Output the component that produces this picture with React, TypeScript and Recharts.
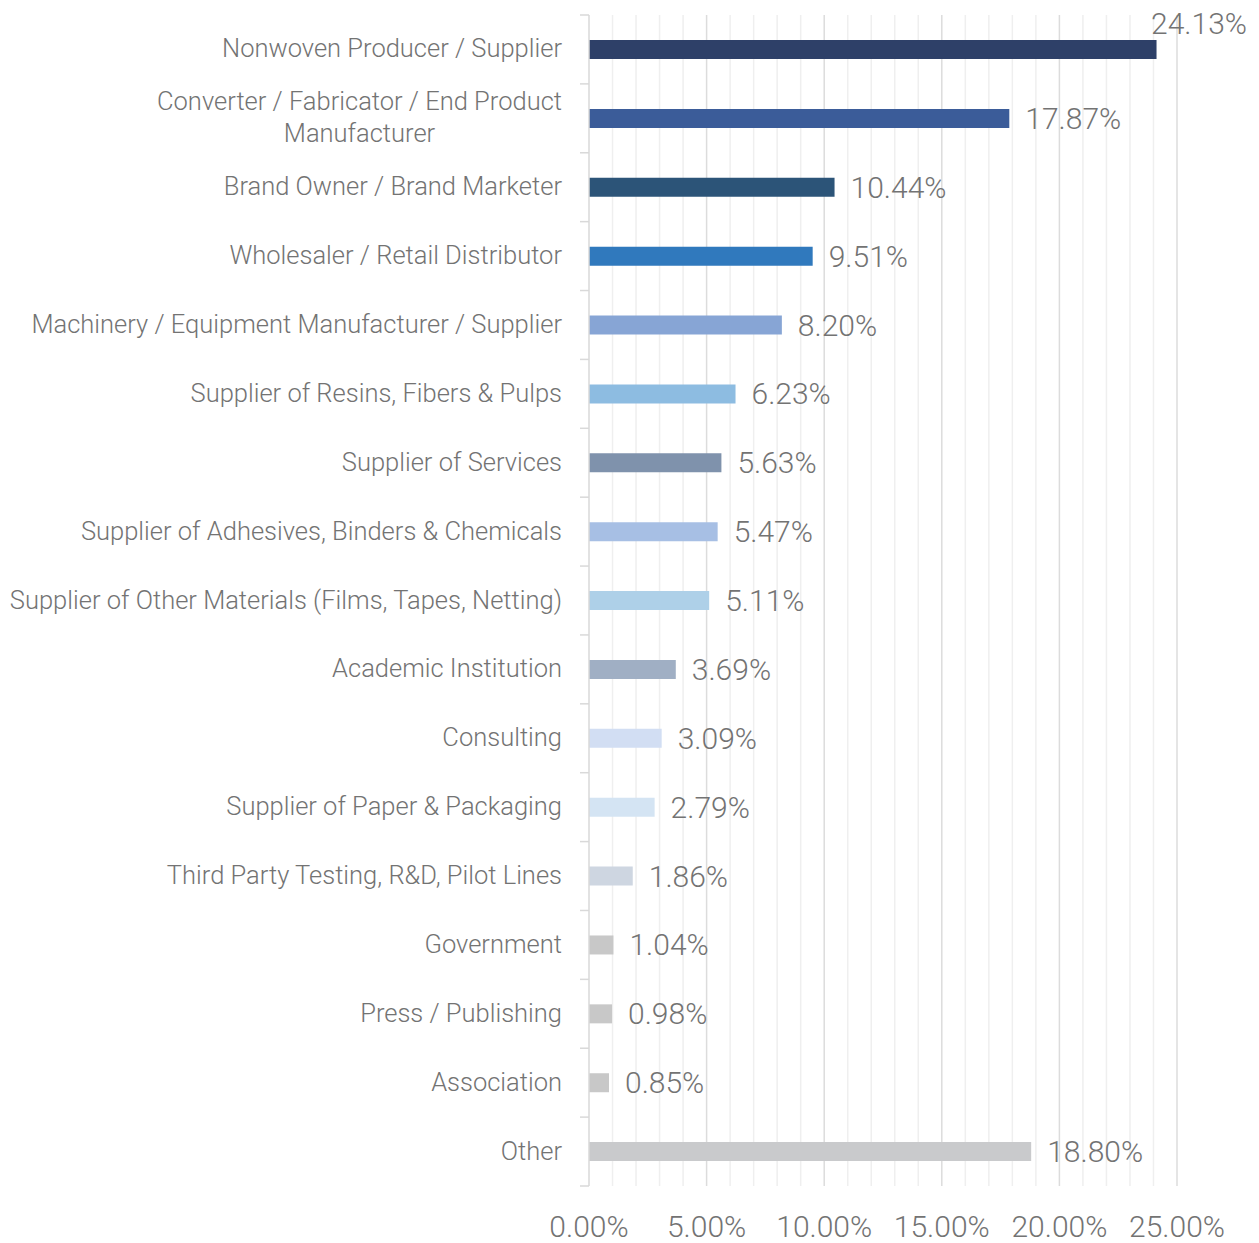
import React from 'react';
import { BarChart, Bar, XAxis, YAxis, CartesianGrid, Cell, LabelList } from 'recharts';

const categories = [
  'Nonwoven Producer / Supplier',
  'Converter / Fabricator / End Product\nManufacturer',
  'Brand Owner / Brand Marketer',
  'Wholesaler / Retail Distributor',
  'Machinery / Equipment Manufacturer / Supplier',
  'Supplier of Resins, Fibers & Pulps',
  'Supplier of Services',
  'Supplier of Adhesives, Binders & Chemicals',
  'Supplier of Other Materials (Films, Tapes, Netting)',
  'Academic Institution',
  'Consulting',
  'Supplier of Paper & Packaging',
  'Third Party Testing, R&D, Pilot Lines',
  'Government',
  'Press / Publishing',
  'Association',
  'Other',
];

const values = [24.13, 17.87, 10.44, 9.51, 8.2, 6.23, 5.63, 5.47, 5.11, 3.69, 3.09, 2.79, 1.86, 1.04, 0.98, 0.85, 18.8];

const barColors = [
  '#2E4068', '#3B5C99', '#2C5478', '#3079BD', '#87A5D5', '#8DBCE1', '#7F92AC', '#A7BFE4',
  '#AED0E8', '#A0AFC4', '#D2DEF3', '#D4E4F3', '#CED6E1', '#C8C8C8', '#C8C8C8', '#C8C8C8', '#C9CACC',
];

// every 1% gets a gridline; every 5% gets a label and a darker line
const gridTicks = [0, 1, 2, 3, 4, 5, 6, 7, 8, 9, 10, 11, 12, 13, 14, 15, 16, 17, 18, 19, 20, 21, 22, 23, 24, 25];
const labelEvery = 5;

const data = categories.map((name, i) => ({ name, value: values[i] }));

const FONT = 'Roboto, "Open Sans", sans-serif';
const TEXT_COLOR = '#737373';
const AXIS_COLOR = '#D9D9D9';
const CHART_W = 1259;
const CHART_H = 1243;
const MARGIN = { top: 15, right: 82, bottom: 0, left: 0 };
const X_AXIS_H = 57;
const BAND = (CHART_H - MARGIN.top - MARGIN.bottom - X_AXIS_H) / categories.length;
const CAT_FONT = 25.5;
const VAL_FONT = 30;

let measureCtx: CanvasRenderingContext2D | null = null;
function measure(text: string, size: number, weight: number) {
  if (!measureCtx) {
    const c = document.createElement('canvas');
    measureCtx = c.getContext('2d');
  }
  if (!measureCtx) return text.length * size * 0.5;
  measureCtx.font = `${weight} ${size}px Roboto`;
  return measureCtx.measureText(text).width;
}

const CategoryTick = (props: any) => {
  const { x, y, payload, index } = props;
  const axisX = x + 27;
  const lines = String(payload.value).split('\n');
  const lineH = 32;
  const widths = lines.map((l) => measure(l, CAT_FONT, 300));
  const maxW = Math.max(...widths);
  const cx = x - maxW / 2;
  const startY = y - 1 - ((lines.length - 1) * lineH) / 2;
  return (
    <g>
      <line x1={axisX - 9} x2={axisX} y1={y - BAND / 2} y2={y - BAND / 2} stroke={AXIS_COLOR} strokeWidth={1.5} />
      {index === categories.length - 1 && (
        <line x1={axisX - 9} x2={axisX} y1={y + BAND / 2} y2={y + BAND / 2} stroke={AXIS_COLOR} strokeWidth={1.5} />
      )}
      {lines.map((l, i) => (
        <text
          key={i}
          x={lines.length > 1 ? cx : x}
          y={startY + i * lineH}
          textAnchor={lines.length > 1 ? 'middle' : 'end'}
          dominantBaseline="central"
          fontFamily={FONT}
          fontWeight={300}
          fontSize={CAT_FONT}
          fill={TEXT_COLOR}
        >
          {l}
        </text>
      ))}
    </g>
  );
};

const XTick = (props: any) => {
  const { x, y, payload } = props;
  const v = Number(payload.value);
  if (v % labelEvery !== 0) return <g />;
  return (
    <text
      x={x}
      y={y}
      dy="0.71em"
      textAnchor="middle"
      fontFamily={FONT}
      fontWeight={300}
      fontSize={VAL_FONT}
      fill={TEXT_COLOR}
    >
      {`${v.toFixed(2)}%`}
    </text>
  );
};

const GridLine = (props: any) => {
  const { x1, x2, y1, y2, index } = props;
  const v = gridTicks[index];
  const major = v % labelEvery === 0;
  if (v === 0) return <g key={`g${index}`} />;
  return (
    <line
      key={`g${index}`}
      x1={x1}
      x2={x2}
      y1={y1}
      y2={y2}
      stroke={major ? '#DCDCDC' : '#EFEFEF'}
      strokeWidth={1.5}
    />
  );
};

const ValueLabel = (props: any) => {
  const { x, y, width, height, value } = props;
  const text = `${Number(value).toFixed(2)}%`;
  const w = measure(text, VAL_FONT, 300);
  const cy = y + height / 2;
  let tx = x + width + 16;
  let ty = cy;
  let anchor: 'start' | 'end' = 'start';
  if (tx + w > CHART_W - 8) {
    tx = CHART_W - 12;
    ty = cy - 26;
    anchor = 'end';
  }
  return (
    <text
      x={tx}
      y={ty}
      textAnchor={anchor}
      dominantBaseline="central"
      fontFamily={FONT}
      fontWeight={300}
      fontSize={VAL_FONT}
      fill={TEXT_COLOR}
    >
      {text}
    </text>
  );
};

export default function App() {
  return (
    <div style={{ position: 'absolute', left: 0, top: 0, background: '#fff' }}>
      <BarChart width={CHART_W} height={CHART_H} data={data} layout="vertical" margin={MARGIN}>
        <CartesianGrid horizontal={false} vertical={(p: any) => <GridLine {...p} />} />
        <XAxis
          type="number"
          domain={[0, 25]}
          ticks={gridTicks}
          interval={0}
          axisLine={false}
          tickLine={false}
          height={X_AXIS_H}
          tickMargin={24}
          tick={<XTick />}
        />
        <YAxis
          type="category"
          dataKey="name"
          width={589}
          axisLine={{ stroke: AXIS_COLOR, strokeWidth: 1.5 }}
          tickLine={false}
          tickSize={9}
          tickMargin={18}
          interval={0}
          tick={<CategoryTick />}
        />
        <Bar dataKey="value" barSize={19} isAnimationActive={false}>
          {data.map((d, i) => (
            <Cell key={d.name} fill={barColors[i]} />
          ))}
          <LabelList dataKey="value" content={<ValueLabel />} />
        </Bar>
      </BarChart>
    </div>
  );
}
